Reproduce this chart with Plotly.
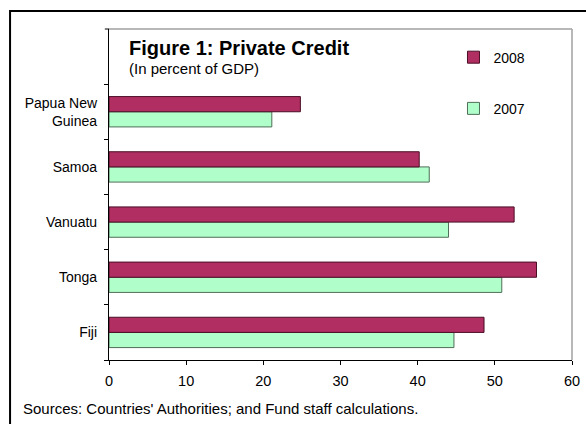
import plotly.graph_objects as go

countries = ["Fiji", "Tonga", "Vanuatu", "Samoa", "Papua New<br>Guinea"]
values_2007 = [44.7, 50.9, 44.0, 41.5, 21.1]
values_2008 = [48.6, 55.4, 52.5, 40.2, 24.8]
x_ticks = [0, 10, 20, 30, 40, 50, 60]

FONT = "Liberation Sans, Arial, sans-serif"

fig = go.Figure()
fig.add_trace(go.Bar(
    y=countries, x=values_2007, name="2007", orientation="h",
    legendgroup="g2007", legendrank=2,
    marker=dict(color="#B0FFCA", line=dict(color="#4F6E58", width=1)),
))
fig.add_trace(go.Bar(
    y=countries, x=values_2008, name="2008", orientation="h",
    legendgroup="g2008", legendrank=1,
    marker=dict(color="#B12E63", line=dict(color="#4A0E25", width=1)),
))

fig.update_layout(
    width=586, height=424,
    margin=dict(l=109, r=14, t=29, b=64, autoexpand=False),
    paper_bgcolor="white", plot_bgcolor="white",
    barmode="group", bargap=0.45, bargroupgap=0,
    font=dict(family=FONT, size=14, color="black"),
    showlegend=True,
    legend=dict(
        x=0.744, y=0.962, xanchor="left", yanchor="top",
        traceorder="grouped", tracegroupgap=30,
        font=dict(size=14), bgcolor="rgba(0,0,0,0)",
    ),
    xaxis=dict(
        range=[0, 60], tickvals=x_ticks, ticktext=[str(v) for v in x_ticks],
        showgrid=False, zeroline=False, automargin=False,
        showline=True, linecolor="black", linewidth=1.2,
        ticks="outside", ticklen=4, tickcolor="black",
        tickfont=dict(size=14.5), ticklabelstandoff=3,
    ),
    yaxis=dict(
        type="category", categoryorder="array", categoryarray=countries,
        range=[-0.5, 5.5], tickson="boundaries",
        showgrid=False, zeroline=False, automargin=False,
        showline=True, linecolor="black", linewidth=1.2,
        ticks="outside", ticklen=4, tickcolor="black",
        tickfont=dict(size=14), ticklabelstandoff=8,
    ),
    shapes=[
        dict(type="line", xref="paper", yref="paper", x0=0, x1=1, y0=1, y1=1,
             line=dict(color="#A0A0A0", width=1.5)),
        dict(type="line", xref="paper", yref="paper", x0=1, x1=1, y0=0, y1=1,
             line=dict(color="#A0A0A0", width=1.5)),
        dict(type="line", xref="paper", yref="paper", x0=-0.009, x1=0, y0=1, y1=1,
             line=dict(color="black", width=1)),
        dict(type="rect", xref="paper", yref="paper", x0=-0.2137, x1=1.1,
             y0=-0.3, y1=1.0544, line=dict(color="black", width=2)),
    ],
    annotations=[
        dict(text="<b>Figure 1: Private Credit</b>", xref="paper", yref="paper",
             x=0.0398, y=0.9417, xanchor="left", yanchor="middle",
             showarrow=False, font=dict(size=20)),
        dict(text="(In percent of GDP)", xref="paper", yref="paper",
             x=0.0398, y=0.8813, xanchor="left", yanchor="middle",
             showarrow=False, font=dict(size=15)),
        dict(text="Sources: Countries' Authorities; and Fund staff calculations.",
             xref="paper", yref="paper", x=-0.1894, y=-0.148,
             xanchor="left", yanchor="middle", showarrow=False,
             font=dict(size=15)),
    ],
)

fig.write_html(
    "out.html",
    config={"displayModeBar": False},
    post_script="document.body.style.margin='0';document.body.style.overflow='hidden';",
)
